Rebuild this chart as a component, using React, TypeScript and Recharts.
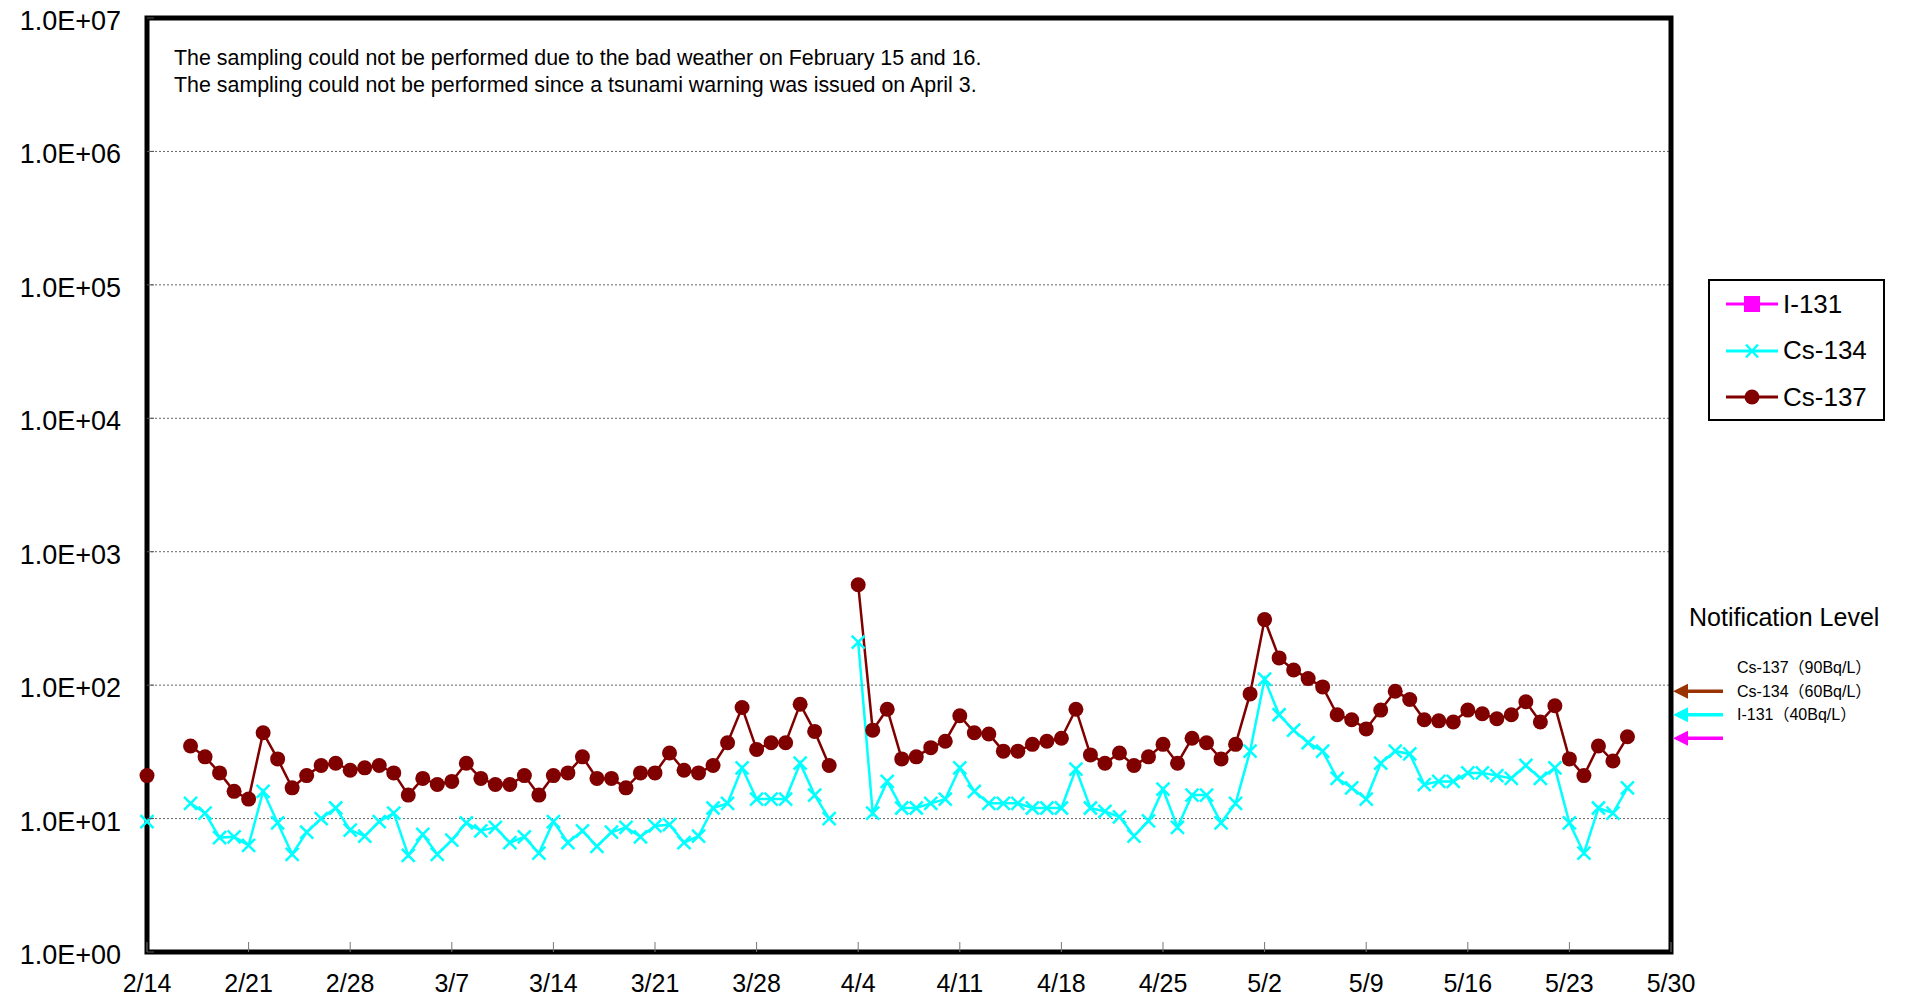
import React from 'react';
import { LineChart, Line, XAxis, YAxis, CartesianGrid, Legend, ReferenceArea, ReferenceDot } from 'recharts';

// one category per day, 2/14 .. 5/30 (2014)
const START = Date.UTC(2014, 1, 14);
const DAY_COUNT = 106;
const dates: string[] = Array.from({ length: DAY_COUNT }, (_, i) => {
  const d = new Date(START + i * 86400000);
  return `${d.getUTCMonth() + 1}/${d.getUTCDate()}`;
});

const xTicks = ['2/14', '2/21', '2/28', '3/7', '3/14', '3/21', '3/28', '4/4', '4/11', '4/18', '4/25', '5/2', '5/9', '5/16', '5/23', '5/30'];
const yTicks = [1, 10, 100, 1000, 10000, 100000, 1000000, 10000000];
const yTickLabels = ['1.0E+00', '1.0E+01', '1.0E+02', '1.0E+03', '1.0E+04', '1.0E+05', '1.0E+06', '1.0E+07'];

// Bq/L, null = no sampling
const cs137: (number | null)[] = [
  21, null, null, 35, 29, 22, 16,
  14, 44, 28, 17, 21, 25, 26,
  23, 24, 25, 22, 15, 20, 18,
  19, 26, 20, 18, 18, 21, 15,
  21, 22, 29, 20, 20, 17, 22,
  22, 31, 23, 22, 25, 37, 68,
  33, 37, 37, 72, 45, 25, null,
  565, 46, 66, 28, 29, 34, 38,
  59, 44, 43, 32, 32, 36, 38,
  40, 66, 30, 26, 31, 25, 29,
  36, 26, 40, 37, 28, 36, 86,
  310, 160, 130, 112, 97, 60, 55,
  47, 65, 90, 78, 55, 54, 53,
  65, 61, 56, 60, 75, 53, 70,
  28, 21, 35, 27, 41, null, null,
  null,
];

const cs134: (number | null)[] = [
  9.5, null, null, 13, 11, 7.2, 7.3,
  6.3, 16, 9.3, 5.4, 7.9, 10, 12,
  8.2, 7.4, 9.5, 11, 5.3, 7.6, 5.4,
  6.9, 9.3, 8.1, 8.6, 6.6, 7.3, 5.5,
  9.5, 6.6, 8.1, 6.2, 7.9, 8.6, 7.3,
  8.8, 9.0, 6.6, 7.4, 12, 13, 24,
  14, 14, 14, 26, 15, 10, null,
  210, 11, 19, 12, 12, 13, 14,
  24, 16, 13, 13, 13, 12, 12,
  12, 23.5, 12, 11.3, 10.3, 7.4, 9.6,
  16.6, 8.6, 15, 15, 9.3, 13, 32,
  111, 60, 46, 37, 32, 20, 17,
  14, 26, 32, 30.5, 18, 19, 19,
  22, 22, 21, 20, 25, 20, 24,
  9.3, 5.5, 12, 11, 17, null, null,
  null,
];

const legendOrder = ['i131', 'cs134', 'cs137'];

const notifyLabels = ['Cs-137（90Bq/L）', 'Cs-134（60Bq/L）', 'I-131（40Bq/L）'];
const notifyLevels = [90, 60, 40];
const notifyColors = ['#993300', '#00FFFF', '#FF00FF'];

const notes = [
  'The sampling could not be performed due to the bad weather on February 15 and 16.',
  'The sampling could not be performed since a tsunami warning was issued on April 3.',
];

const data = dates.map((date, i) => ({ date, cs134: cs134[i], cs137: cs137[i] }));

const FONT = '"Liberation Sans", Arial, "Noto Sans CJK JP", sans-serif';

const XTick = ({ x, y, payload }: any) => (
  <g>
    <line x1={x} x2={x} y1={y - 10} y2={y} stroke="#777" strokeWidth={1} />
    <text x={x} y={y + 40} textAnchor="middle" fontSize={25} fill="#000">{payload.value}</text>
  </g>
);

const YTick = ({ x, y, payload, index }: any) => (
  <g>
    <line x1={x} x2={x + 7} y1={y} y2={y} stroke="#555" strokeWidth={1} />
    <text x={x - 26} y={y + 12} textAnchor="end" fontSize={27} fill="#000">
      {yTickLabels[yTicks.indexOf(payload.value)] ?? yTickLabels[index]}
    </text>
  </g>
);

const CrossDot = (props: any) => {
  const { cx, cy } = props;
  if (cx == null || cy == null) return <g key={props.key} />;
  const s = 6.5;
  return (
    <path
      key={props.key}
      d={`M${cx - s},${cy - s}L${cx + s},${cy + s}M${cx - s},${cy + s}L${cx + s},${cy - s}`}
      stroke="#00FFFF"
      strokeWidth={2.5}
      fill="none"
    />
  );
};

const NotifyArrow = ({ cx, cy, color, label }: any) => (
  <g>
    <line x1={cx + 15} x2={cx + 52} y1={cy} y2={cy} stroke={color} strokeWidth={3.5} />
    <path d={`M${cx + 2},${cy}L${cx + 17},${cy - 7.5}L${cx + 17},${cy + 7.5}Z`} fill={color} />
    <text x={cx + 66} y={cy - 18} fontSize={16} fill="#000">{label}</text>
  </g>
);

const LegendMarker = ({ dataKey, color }: { dataKey: string; color: string }) => (
  <svg width={54} height={20} style={{ display: 'block' }}>
    <line x1={1} x2={53} y1={10} y2={10} stroke={color} strokeWidth={3} />
    {dataKey === 'i131' && <rect x={19} y={2} width={16} height={16} fill={color} />}
    {dataKey === 'cs134' && <path d="M21,3.5L33,16.5M21,16.5L33,3.5" stroke={color} strokeWidth={2.5} />}
    {dataKey === 'cs137' && <circle cx={27} cy={10} r={7.5} fill={color} />}
  </svg>
);

const LegendBox = ({ payload }: any) => {
  const items = [...(payload || [])].sort(
    (a: any, b: any) => legendOrder.indexOf(a.dataKey) - legendOrder.indexOf(b.dataKey)
  );
  return (
    <div
      style={{
        border: '2px solid #000',
        background: '#fff',
        width: 173,
        height: 138,
        boxSizing: 'content-box',
        paddingTop: 0,
      }}
    >
      {items.map((item: any) => (
        <div key={item.value} style={{ display: 'flex', alignItems: 'center', height: 46.5, paddingLeft: 15 }}>
          <LegendMarker dataKey={item.dataKey} color={item.color} />
          <span style={{ fontSize: 26, marginLeft: 4, color: '#000' }}>{item.value}</span>
        </div>
      ))}
    </div>
  );
};

export default function App() {
  return (
    <div style={{ position: 'absolute', left: 0, top: 0, width: 1912, height: 1002, background: '#fff', fontFamily: FONT }}>
      <LineChart width={1912} height={1002} data={data} margin={{ top: 18, right: 241, bottom: 0, left: 0 }}>
        <CartesianGrid vertical={false} stroke="#666" strokeDasharray="2 2" strokeWidth={1} />
        <XAxis
          dataKey="date"
          ticks={xTicks}
          interval={0}
          height={50}
          axisLine={false}
          tickLine={false}
          tickSize={0}
          tickMargin={0}
          tick={<XTick />}
        />
        <YAxis
          scale="log"
          type="number"
          domain={[1, 10000000]}
          ticks={yTicks}
          allowDataOverflow
          width={147}
          axisLine={false}
          tickLine={false}
          tickSize={0}
          tickMargin={0}
          tick={<YTick />}
        />
        <ReferenceArea
          x1={dates[0]}
          x2={dates[dates.length - 1]}
          y1={1}
          y2={10000000}
          fill="none"
          fillOpacity={0}
          stroke="#000"
          strokeWidth={5}
          ifOverflow="visible"
        />
        <Legend
          layout="horizontal"
          verticalAlign="middle"
          align="center"
          content={<LegendBox />}
          wrapperStyle={{ position: 'absolute', left: 1708, top: 279, width: 177, height: 142 }}
        />
        <Line
          name="I-131"
          dataKey="i131"
          stroke="#FF00FF"
          strokeWidth={2.5}
          dot={false}
          isAnimationActive={false}
        />
        <Line
          name="Cs-134"
          dataKey="cs134"
          stroke="#00FFFF"
          strokeWidth={2.5}
          dot={(p: any) => <CrossDot {...p} />}
          activeDot={false}
          isAnimationActive={false}
        />
        <Line
          name="Cs-137"
          dataKey="cs137"
          stroke="#800000"
          strokeWidth={2.5}
          dot={{ r: 7.5, fill: '#800000', stroke: '#800000', strokeWidth: 0 }}
          activeDot={false}
          isAnimationActive={false}
        />
        {notifyLevels.map((level, i) => (
          <ReferenceDot
            key={notifyLabels[i]}
            x={dates[dates.length - 1]}
            y={level}
            ifOverflow="visible"
            shape={(p: any) => <NotifyArrow cx={p.cx} cy={p.cy} color={notifyColors[i]} label={notifyLabels[i]} />}
          />
        ))}
      </LineChart>
      <div style={{ position: 'absolute', left: 174, top: 45, fontSize: 21.4, lineHeight: '27px', color: '#000' }}>
        {notes.map((n) => (
          <div key={n}>{n}</div>
        ))}
      </div>
      <div style={{ position: 'absolute', left: 1689, top: 602, fontSize: 25, lineHeight: '30px', color: '#000' }}>
        Notification Level
      </div>
    </div>
  );
}
